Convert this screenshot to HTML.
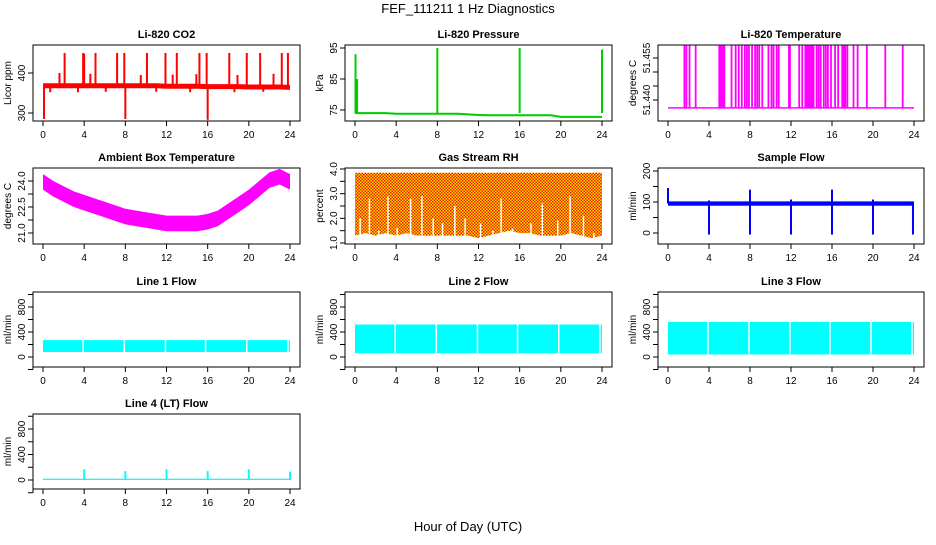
<!DOCTYPE html>
<html><head><meta charset="utf-8"><style>
body{margin:0;background:#fff}
svg{font-family:"Liberation Sans",sans-serif}
.t{font-weight:bold;font-size:11px}
.tk{font-size:10px}
</style></head><body>
<svg id="c" width="936" height="540" viewBox="0 0 936 540">
<defs><pattern id="rhp" width="3" height="3" patternUnits="userSpaceOnUse"><rect width="3" height="3" fill="#ffd800"/><rect width="1.5" height="1.5" fill="#e82000"/><rect x="1.5" y="1.5" width="1.5" height="1.5" fill="#e82000"/></pattern></defs>
<text x="468" y="13" text-anchor="middle" font-size="13">FEF_111211  1 Hz Diagnostics</text>
<text x="468" y="531" text-anchor="middle" font-size="13">Hour of Day (UTC)</text>
</svg>
<script>
const xTicks=[0,4,8,12,16,20,24];
const co2Base=[368,368,368,368,368,368,368,368,368,368,368,368,367,367,367,367,366,366,366,366,365,365,365,365,364];
const co2Spikes=[[2.1,450],[3.9,450],[4.0,448],[5.1,450],[7.2,450],[7.9,450],[10.1,450],[11.9,450],[13.0,450],[15.2,450],[15.9,450],[18.1,450],[19.8,450],[21.1,450],[23.2,450],[23.8,450],[1.6,400],[4.6,398],[9.5,395],[12.6,396],[14.9,397],[18.9,395],[22.4,398],[0.1,285],[8.0,285],[16.0,283],[0.7,352],[3.4,352],[6.1,353],[11.0,353],[14.3,352],[18.6,352],[21.4,353]];
const presBase=[74,74,74,74,73.8,73.8,73.8,73.8,73.8,73.8,73.8,73.6,73.4,73.3,73.3,73.3,73.3,73.3,73.3,73.3,72.8,72.8,72.8,72.8,72.8];
const presSpikes=[[0.05,93],[0.2,85],[8.0,95],[16.0,95],[24.0,94.5]];
const ltBase=51.4372;
const ltTop=51.4595;
const ltSpikes=[1.6,1.8,2.1,2.7,5,5.1,5.2,5.3,5.4,5.5,6.2,6.6,6.9,7.2,7.5,7.7,7.9,8.2,8.5,8.7,8.9,9.2,9.8,10.1,10.3,10.6,10.8,11.8,11.9,12.8,13.1,13.4,13.5,13.6,13.7,13.8,13.9,14,14.1,14.2,14.5,14.7,14.9,15.2,15.4,15.6,15.9,16.3,16.6,17,17.1,17.2,17.3,17.5,18.1,18.5,19.4,21.2,22.9];
const ambMid=[24.0,23.6,23.3,23.0,22.8,22.6,22.4,22.2,22.0,21.9,21.8,21.7,21.6,21.6,21.6,21.6,21.7,21.9,22.3,22.7,23.1,23.6,24.1,24.3,24.0];
const rhLo=[1.3,1.4,1.3,1.4,1.3,1.4,1.3,1.3,1.3,1.3,1.3,1.3,1.2,1.3,1.4,1.5,1.4,1.4,1.3,1.3,1.3,1.4,1.3,1.2,1.3];
const rhHi=[3.85,3.85,3.85,3.85,3.85,3.85,3.85,3.85,3.85,3.85,3.85,3.85,3.85,3.85,3.85,3.85,3.85,3.85,3.85,3.85,3.85,3.85,3.85,3.85,3.85];
const rhDips=[[0.5,2.0],[1.4,2.8],[2.3,1.5],[3.2,2.9],[4.1,1.6],[5.4,2.8],[6.5,2.9],[7.6,2.0],[8.5,1.8],[9.7,2.5],[10.7,2.0],[12.2,1.8],[13.4,1.5],[14.2,2.8],[15.3,1.6],[17.1,1.8],[18.2,2.6],[19.7,1.9],[20.9,2.9],[22.2,2.1],[23.2,1.4]];
const sfBase=95;
const sfSpikes=[[0,145],[8,140],[16,140],[4,105],[12,108],[20,108]];
const sfDips=[4,8,12,16,20,23.9];
const l1Lo=80, l1Hi=270;
const l2Lo=60, l2Hi=520;
const l3Lo=40, l3Hi=560;
const flowGaps=[3.9,7.9,11.9,15.8,19.8,23.8];
const l4Base=20;
const l4Spikes=[[4,170],[8,140],[12,170],[16,140],[20,170],[24,130]];

const svg=document.getElementById('c');
const NS='http://www.w3.org/2000/svg';
function mk(tag,attrs,parent,name){const e=document.createElementNS(NS,tag);for(const k in attrs)e.setAttribute(k,attrs[k]);


(parent||svg).appendChild(e);return e;}
function panel(o){
  const g=mk('g',{},svg,o.name);
  const x0=o.bx+10,x1=o.bx2-10;
  const X=v=>x0+(x1-x0)*v/24;
  const Y=v=>o.y0px+(v-o.v0)*(o.y1px-o.y0px)/(o.v1-o.v0);
  mk('rect',{x:o.bx,y:o.by,width:o.bx2-o.bx,height:o.by2-o.by,fill:'none',stroke:'#000','stroke-width':1},g,'plot-frame');
  mk('text',{x:(o.bx+o.bx2)/2,y:o.by-7,'text-anchor':'middle',class:'t'},g,'panel-title').textContent=o.title;
  xTicks.forEach(t=>{mk('line',{x1:X(t),x2:X(t),y1:o.by2,y2:o.by2+5,stroke:'#000'},g,'x-tick');
    mk('text',{x:X(t),y:o.by2+17,'text-anchor':'middle',class:'tk'},g,'x-tick-label').textContent=t;});
  mk('line',{x1:X(0),x2:X(24),y1:o.by2,y2:o.by2,stroke:'#000'},g,'x-axis');
  o.yt.forEach(t=>{const y=Y(t);mk('line',{x1:o.bx-5,x2:o.bx,y1:y,y2:y,stroke:'#000'},g,'y-tick');
    const tx=mk('text',{x:o.bx-8,y:y,'text-anchor':'middle',class:'tk',transform:`rotate(-90 ${o.bx-8} ${y})`},g,'y-tick-label');tx.textContent=o.ytl?o.ytl(t):t;});
  const ym=(o.by+o.by2)/2;
  mk('text',{x:o.bx-22,y:ym,'text-anchor':'middle',class:'tk',transform:`rotate(-90 ${o.bx-22} ${ym})`},g,'y-axis-title').textContent=o.ylab;
  mk('line',{x1:o.bx,x2:o.bx,y1:Y(o.yt[0]),y2:Y(o.yt[o.yt.length-1]),stroke:'#000'},g,'y-axis');
  o.draw(g,X,Y);
}
function vline(g,x,ya,yb,col,w,name){mk('line',{x1:x,x2:x,y1:ya,y2:yb,stroke:col,'stroke-width':w||1},g,name);}
function path(g,pts,col,w,name){mk('polyline',{points:pts.map(p=>p.join(',')).join(' '),fill:'none',stroke:col,'stroke-width':w||1},g,name);}
const hours=co2Base.map((_,i)=>i);
panel({name:'co2-panel',title:'Li-820 CO2',ylab:'Licor ppm',bx:33,bx2:300,by:45,by2:121,v0:300,v1:400,y0px:113,y1px:73,yt:[300,400],
 draw:(g,X,Y)=>{co2Spikes.forEach(s=>vline(g,X(s[0]),Y(co2Base[Math.round(s[0])]),Y(s[1]),'#f00',2,'co2-spike'));
  path(g,hours.map(h=>[X(h),Y(co2Base[h])]),'#f00',5,'co2-line');}});
panel({name:'pressure-panel',title:'Li-820 Pressure',ylab:'kPa',bx:345,bx2:612,by:45,by2:121,v0:75,v1:95,y0px:110,y1px:48,yt:[75,85,95],
 draw:(g,X,Y)=>{path(g,hours.map(h=>[X(h),Y(presBase[h])]),'#0c0',2,'pressure-line');
  presSpikes.forEach(s=>vline(g,X(s[0]),Y(presBase[0]),Y(s[1]),'#0c0',2,'pressure-spike'));}});
panel({name:'licor-temp-panel',title:'Li-820 Temperature',ylab:'degrees C',bx:658,bx2:924,by:45,by2:121,v0:51.44,v1:51.455,y0px:100,y1px:58,yt:[51.44,51.445,51.45,51.455],ytl:t=>(t===51.44||t===51.455)?t.toFixed(3):'',
 draw:(g,X,Y)=>{path(g,[[X(0),Y(ltBase)],[X(24),Y(ltBase)]],'#f0f',1.5,'temp-baseline');
  ltSpikes.forEach(s=>vline(g,X(s),Y(ltBase),Y(ltTop),'#f0f',1.8,'temp-spike'));}});
panel({name:'ambient-temp-panel',title:'Ambient Box Temperature',ylab:'degrees C',bx:33,bx2:300,by:168,by2:244,v0:21,v1:24,y0px:233,y1px:181,yt:[21,21.75,22.5,23.25,24],ytl:t=>(t===21||t===22.5||t===24)?t.toFixed(1):'',
 draw:(g,X,Y)=>{const up=ambMid.map((v,h)=>[X(h),Y(v+0.4)]),dn=ambMid.map((v,h)=>[X(h),Y(v-0.5)]).reverse();
  mk('polygon',{points:up.concat(dn).map(p=>p.join(',')).join(' '),fill:'#f0f'},g,'ambient-band');}});
panel({name:'rh-panel',title:'Gas Stream RH',ylab:'percent',bx:345,bx2:612,by:168,by2:244,v0:1,v1:4,y0px:243,y1px:169,yt:[1,1.5,2,2.5,3,3.5,4],ytl:t=>Number.isInteger(t)?t.toFixed(1):'',
 draw:(g,X,Y)=>{const up=rhHi.map((v,h)=>[X(h),Y(v)]),dn=rhLo.map((v,h)=>[X(h),Y(v)]).reverse();
  mk('polygon',{points:up.concat(dn).map(p=>p.join(',')).join(' '),fill:'url(#rhp)'},g,'rh-band');
  rhDips.forEach(d=>vline(g,X(d[0]),Y(1.2),Y(d[1]),'#fff',1.5,'rh-gap'));}});
panel({name:'sample-flow-panel',title:'Sample Flow',ylab:'ml/min',bx:658,bx2:924,by:168,by2:244,v0:0,v1:200,y0px:233,y1px:171,yt:[0,50,100,150,200],ytl:t=>t%100===0?t:'',
 draw:(g,X,Y)=>{mk('rect',{x:X(0),y:Y(sfBase+7),width:X(24)-X(0),height:Y(sfBase-7)-Y(sfBase+7),fill:'#00f'},g,'sample-flow-band');
  sfSpikes.forEach(s=>vline(g,X(s[0]),Y(sfBase),Y(s[1]),'#00f',2,'sample-flow-spike'));
  sfDips.forEach(s=>vline(g,X(s),Y(sfBase),Y(-5),'#00f',2,'sample-flow-dip'));}});
function flowPanel(name,title,bx,bx2,by,lo,hi){
 const off=by-292;
 panel({name:name,title:title,ylab:'ml/min',bx:bx,bx2:bx2,by:by,by2:by+75,v0:0,v1:800,y0px:357+off,y1px:307+off,yt:[-200,0,200,400,600,800,1000],ytl:t=>(t>=0&&t%400===0)?t:'',
 draw:(g,X,Y)=>{mk('rect',{x:X(0),y:Y(hi),width:X(24)-X(0),height:Y(lo)-Y(hi),fill:'#0ff'},g,'flow-band');
  flowGaps.forEach(s=>vline(g,X(s),Y(hi),Y(lo),'#fff',1.5,'flow-gap'));}});
}
flowPanel('line1-flow-panel','Line 1 Flow',33,300,292,l1Lo,l1Hi);
flowPanel('line2-flow-panel','Line 2 Flow',345,612,292,l2Lo,l2Hi);
flowPanel('line3-flow-panel','Line 3 Flow',658,924,292,l3Lo,l3Hi);
panel({name:'line4-flow-panel',title:'Line 4 (LT) Flow',ylab:'ml/min',bx:33,bx2:300,by:414,by2:489,v0:0,v1:800,y0px:480,y1px:429,yt:[-200,0,200,400,600,800,1000],ytl:t=>(t>=0&&t%400===0)?t:'',
 draw:(g,X,Y)=>{mk('rect',{x:X(0),y:Y(l4Base),width:X(24)-X(0),height:Y(0)-Y(l4Base),fill:'#0ff'},g,'line4-band');
  l4Spikes.forEach(s=>vline(g,X(s[0]),Y(0),Y(s[1]),'#0ff',2,'line4-spike'));}});
</script>
</body></html>
